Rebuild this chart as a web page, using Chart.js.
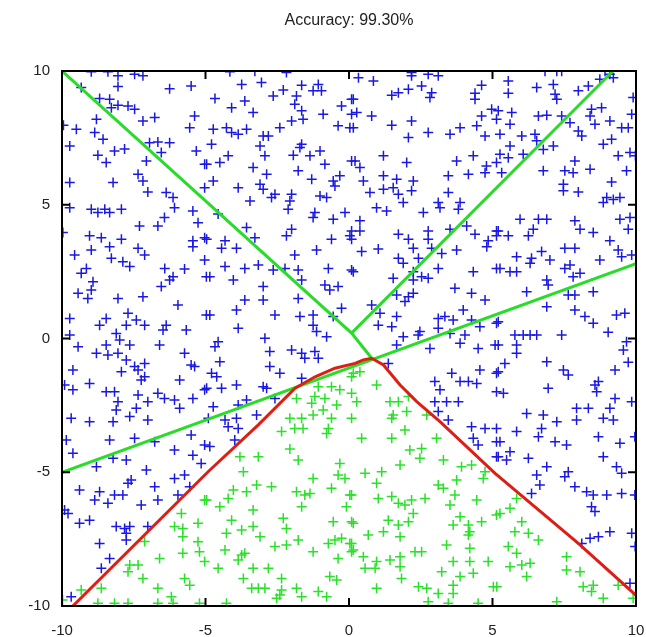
<!DOCTYPE html>
<html>
<head>
<meta charset="utf-8">
<script src="https://cdn.jsdelivr.net/npm/chart.js@4.4.1/dist/chart.umd.min.js"></script>
<style>
html,body{margin:0;padding:0;background:#fff;}
#wrap{width:646px;height:637px;}
</style>
</head>
<body>
<div id="wrap"><canvas id="c" width="646" height="637"></canvas></div>
<script>
const titleText = "Accuracy: 99.30%";
const xTicks = [-10, -5, 0, 5, 10];
const yTicks = [-10, -5, 0, 5, 10];

// class 1 (blue "+") points [x, y]
const bluePoints = [
[-8.98,9.97],[-8.40,9.97],[-8.05,9.82],[-7.47,9.88],[-7.18,9.82],[-9.33,9.38],[-8.05,9.42],[-6.25,9.34],[-5.50,9.44],
[-8.69,8.97],[-8.34,8.94],[-8.28,8.63],[-8.05,8.72],[-7.70,8.69],[-7.47,8.57],[-8.80,8.20],[-7.18,8.13],[-6.77,8.26],
[-5.38,8.32],[-5.55,7.88],[-9.95,7.97],[-9.50,7.82],[-8.86,7.70],[-8.57,7.45],[-6.66,7.35],[-6.25,7.32],[-6.95,7.32],
[-9.73,7.20],[-8.75,6.85],[-8.17,7.01],[-7.82,7.08],[-8.46,6.58],[-6.54,6.95],[-7.06,6.64],[-5.32,7.01],[-5.03,6.51],
[-7.35,6.14],[-7.18,5.89],[-9.73,5.83],[-8.22,5.83],[-7.01,5.48],[-6.37,5.46],[-6.13,5.27],[-6.08,4.89],[-5.03,5.64],
[-9.73,4.89],[-8.98,4.83],[-8.51,4.83],[-7.93,4.83],[-8.75,4.71],[-8.34,4.71],[-5.44,4.77],[-5.26,4.33],[-9.97,3.96],
[-9.04,3.84],[-8.63,3.77],[-7.93,3.71],[-7.30,4.21],[-6.66,4.21],[-6.43,4.52],[-5.44,3.65],[-5.03,3.77],
[-4.15,9.97],[-3.28,9.99],[-2.18,9.94],[-3.74,9.50],[-3.05,9.57],[-1.65,9.47],[-1.07,9.50],[-1.25,9.26],[-0.96,9.26],
[-2.64,9.07],[-2.29,9.29],[-1.83,9.07],[-4.67,8.97],[-3.63,8.88],[-4.09,8.63],[-3.34,8.45],[-1.89,8.76],[-1.65,8.51],
[-1.60,8.20],[-2.00,8.13],[-0.90,8.38],[-0.26,8.69],[0.09,8.94],[0.09,8.38],[-4.73,7.82],[-4.27,7.88],[-4.09,7.70],
[-3.86,7.64],[-3.57,7.82],[-2.99,7.57],[-2.81,7.57],[-2.41,7.88],[-0.38,7.95],[0.03,7.88],[-4.79,7.26],[-3.10,7.20],
[-1.65,7.26],[-1.71,7.14],[-1.01,7.01],[-1.94,6.85],[-1.36,6.83],[-2.93,6.83],[-4.50,6.58],[-4.96,6.51],[-4.21,6.83],
[-0.84,6.51],[0.09,6.64],[-3.34,6.39],[-1.77,6.27],[-2.87,6.14],[-1.30,5.95],[-4.73,5.89],[-3.86,5.64],[-3.10,5.77],
[-2.99,5.58],[-0.32,6.08],[-0.55,5.89],[-0.49,5.70],[-2.70,5.27],[-2.58,5.39],[-2.00,5.39],[-2.06,5.14],[-2.12,4.83],
[-3.45,5.14],[-1.01,5.33],[-0.78,5.27],[-1.19,4.71],[-1.25,4.52],[-0.55,4.46],[-0.14,4.71],[0.09,4.02],[0.03,3.84],
[-4.56,4.65],[-3.57,4.15],[-3.28,3.77],[-2.00,4.08],[-2.18,3.84],[-4.32,3.65],[-4.96,3.71],[-0.61,3.71],
[0.33,9.75],[0.85,9.63],[2.18,9.94],[2.18,9.82],[2.76,9.88],[3.11,9.82],[2.07,9.32],[2.53,9.44],[2.88,9.19],[2.82,9.01],
[1.49,9.09],[1.72,9.19],[4.62,9.47],[4.39,9.17],[4.39,8.94],[0.15,8.94],[0.27,8.45],[0.79,8.32],[2.18,8.13],[1.49,7.97],
[0.15,7.88],[2.76,7.70],[2.07,7.51],[3.52,7.64],[3.87,7.88],[4.45,7.95],[4.74,7.57],[4.62,8.32],[4.97,8.57],[5.14,8.20],
[1.20,6.83],[2.01,6.58],[0.21,6.64],[0.38,6.39],[0.50,5.89],[3.75,6.64],[4.33,6.83],[4.16,6.14],[4.79,6.45],[4.74,6.20],
[5.14,6.58],[3.46,6.08],[1.20,6.08],[1.66,5.95],[2.24,5.89],[1.20,5.58],[1.54,5.64],[1.72,5.39],[2.18,5.52],[0.73,5.46],
[1.89,5.08],[0.96,4.89],[1.31,4.77],[3.46,5.46],[2.59,4.71],[3.11,5.08],[3.17,4.89],[3.87,5.08],[3.81,4.83],[0.38,4.40],
[0.38,4.02],[0.09,3.71],[1.72,3.90],[2.07,3.71],[2.76,4.02],[2.76,3.71],[4.10,4.21],[4.39,3.90],[4.85,3.65],[5.14,4.02],
[5.14,3.84],[3.52,4.08],
[6.83,9.99],[7.24,9.99],[7.41,9.99],[8.92,9.99],[9.09,9.88],[5.55,9.63],[5.55,9.17],[6.54,9.38],[7.12,9.50],[7.18,9.13],
[7.24,8.94],[7.99,9.26],[8.34,9.44],[8.74,9.69],[9.21,9.75],[9.90,9.01],[5.20,8.51],[5.67,8.45],[5.61,8.01],[5.26,7.64],
[6.60,8.32],[6.89,8.35],[7.41,8.32],[7.70,8.07],[8.45,8.57],[8.80,8.63],[8.40,8.32],[8.57,8.01],[9.09,8.13],[9.50,7.88],
[9.73,7.88],[9.85,8.38],[6.02,7.57],[6.48,7.64],[6.54,7.39],[5.61,7.20],[5.26,6.89],[5.55,6.76],[6.07,6.89],[6.77,7.07],
[7.12,7.20],[7.99,7.76],[8.11,7.57],[8.86,7.26],[9.15,7.45],[7.87,6.64],[7.52,6.27],[7.81,6.20],[8.40,6.33],[6.77,6.27],
[5.32,6.20],[9.38,6.83],[9.79,6.95],[9.98,6.83],[9.67,6.27],[7.47,5.77],[7.47,5.52],[7.99,5.48],[9.15,5.85],[8.98,5.27],
[9.21,5.20],[9.44,5.27],[8.86,5.08],[5.96,4.46],[6.60,4.46],[6.89,4.46],[6.42,4.08],[6.25,3.84],[5.20,4.02],[5.55,3.84],
[7.87,4.40],[8.05,4.08],[8.51,3.96],[9.44,4.46],[9.79,4.52],[9.73,4.08],[9.09,3.65],
[-9.56,3.12],[-8.98,3.31],[-8.34,3.43],[-7.35,3.37],[-7.12,3.12],[-5.44,3.43],[-8.28,3.00],[-7.88,2.87],[-7.64,2.69],
[-9.15,2.62],[-9.33,2.44],[-8.92,2.12],[-9.44,1.69],[-9.10,1.50],[-8.98,1.81],[-8.05,1.50],[-7.18,1.56],[-6.42,2.62],
[-5.73,2.60],[-6.54,1.94],[-6.25,2.19],[-6.13,2.31],[-5.96,1.25],[-5.03,2.93],[-4.97,2.31],[-9.73,0.75],[-9.73,0.13],
[-8.69,0.50],[-8.46,0.75],[-7.70,0.94],[-7.76,0.50],[-7.41,0.69],[-7.12,0.50],[-6.37,0.50],[-6.48,0.32],[-5.67,0.32],
[-4.97,0.88],[-9.44,-0.31],[-8.80,-0.55],[-8.46,-0.24],[-8.40,-0.62],[-8.05,-0.55],[-8.11,0.19],[-7.99,-0.06],[-7.64,-0.24],
[-6.60,-0.24],[-5.73,-0.55],[-9.62,-1.18],[-9.91,-1.74],[-9.62,-1.92],[-9.04,-1.68],[-7.93,-1.24],[-7.76,-0.80],[-7.47,-1.05],
[-7.35,-1.18],[-7.12,-0.93],[-7.24,-1.55],[-7.12,-1.43],[-5.90,-1.55],[-5.50,-0.99],[-5.38,-1.05],[-5.03,-1.92],[-8.46,-1.99],
[-8.17,-1.99],[-8.05,-2.36],[-8.11,-2.67],[-7.35,-2.11],[-7.01,-2.36],[-6.66,-2.05],[-6.43,-2.24],[-6.08,-2.30],[-5.90,-2.61],
[-5.44,-2.24],[-7.41,-2.61],[-7.64,-2.92],[-9.68,-2.98],[-9.04,-3.11],[-8.22,-3.11],[-7.01,-3.05],
[-4.44,3.37],[-3.92,3.37],[-1.13,3.31],[-1.89,3.12],[-4.32,2.69],[-3.63,2.62],[-3.16,2.75],[-2.64,2.56],[-2.23,2.62],
[-1.77,2.56],[-1.65,2.19],[-0.72,2.62],[0.09,2.56],[-4.85,2.31],[-4.03,2.19],[-2.99,1.94],[-0.84,2.00],[-0.38,1.94],
[-0.67,1.81],[-3.63,1.44],[-2.99,1.44],[-1.77,1.50],[-0.26,1.13],[-4.85,0.88],[-3.92,1.07],[-2.58,0.88],[-1.71,0.82],
[-1.25,0.88],[-0.55,0.82],[-3.86,0.38],[-1.25,0.50],[-1.13,0.26],[-0.78,0.07],[-4.56,-0.12],[-4.67,-0.31],[-2.93,0.01],
[-2.76,-0.49],[-2.00,-0.43],[-1.65,-0.55],[-1.54,-0.74],[-1.19,-0.49],[-1.07,-0.74],[-4.50,-0.87],[-2.76,-1.05],[-2.41,-1.30],
[-4.79,-1.30],[-4.61,-1.43],[-4.96,-1.86],[-4.44,-1.86],[-3.92,-1.74],[-2.99,-1.80],[-2.87,-1.86],[-1.65,-1.49],[-4.73,-2.55],
[-3.86,-2.49],[-3.57,-2.30],[-2.58,-2.24],[-3.22,-2.86],[-3.92,-2.98],[-4.32,-3.05],[-4.90,-2.98],
[0.44,3.25],[1.02,3.35],[2.24,3.37],[2.88,3.37],[3.23,3.18],[3.75,3.31],[4.80,3.43],[0.15,2.50],[1.72,3.00],[1.89,2.81],
[2.42,3.00],[1.54,2.25],[2.24,2.50],[2.24,2.19],[2.53,2.31],[2.76,2.25],[3.11,2.62],[4.33,2.50],[5.14,2.62],[1.66,1.63],
[2.07,1.56],[2.24,1.69],[1.95,1.38],[3.69,1.88],[4.27,1.69],[4.74,1.44],[0.79,1.25],[1.08,0.94],[1.66,0.82],[1.49,0.44],
[1.02,0.50],[3.11,0.75],[3.34,0.82],[3.63,0.69],[3.98,1.07],[4.27,0.69],[4.56,0.44],[5.14,0.57],[2.47,0.26],[2.41,0.13],
[1.89,0.07],[1.66,-0.24],[2.82,-0.37],[3.11,0.38],[3.52,0.19],[4.04,0.13],[3.87,-0.18],[4.50,-0.37],[5.09,-0.24],[1.37,-0.93],
[3.58,-1.30],[2.99,-1.61],[3.17,-1.92],[3.87,-1.61],[4.16,-1.61],[4.45,-1.68],[4.56,-1.18],[5.14,-1.30],[5.14,-1.99],
[2.99,-2.36],[3.40,-2.36],[3.81,-2.36],[3.11,-2.73],[3.46,-3.05],
[5.84,3.06],[6.36,3.00],[6.71,3.25],[7.00,2.93],[6.31,2.81],[7.52,3.37],[7.87,3.37],[8.74,2.93],[9.38,3.31],[9.50,3.06],
[9.85,3.12],[5.26,2.62],[5.61,2.50],[5.84,2.50],[7.52,2.62],[7.70,2.75],[7.81,2.31],[8.05,2.44],[6.89,2.19],[6.94,2.00],
[6.19,1.75],[7.64,1.63],[7.87,1.63],[8.51,1.75],[6.89,1.19],[7.87,1.07],[8.22,0.82],[8.51,0.57],[9.32,0.88],[9.61,0.94],
[5.20,0.63],[5.78,0.13],[6.07,0.13],[6.31,0.13],[6.54,0.13],[7.41,0.13],[9.03,0.23],[9.67,-0.12],[9.56,-0.43],[5.84,-0.24],
[5.84,-0.55],[5.20,-0.24],[5.43,-0.93],[5.20,-1.24],[6.89,-0.87],[7.47,-1.18],[7.64,-1.36],[9.27,-1.18],[9.73,-0.89],
[5.38,-2.05],[6.94,-1.86],[8.57,-1.74],[8.69,-1.61],[8.63,-1.99],[9.27,-2.24],[9.85,-2.36],[6.19,-2.80],[6.77,-2.86],
[7.24,-3.11],[7.93,-2.61],[8.34,-2.61],[9.09,-2.61],[8.86,-2.98],[9.21,-3.05],[7.93,-3.05],
[-9.85,-3.79],[-9.62,-4.29],[-8.34,-3.79],[-7.47,-3.73],[-6.77,-3.86],[-5.50,-3.61],[-5.03,-3.98],[-8.22,-4.48],[-7.76,-4.54],
[-8.80,-4.79],[-7.06,-4.92],[-6.08,-4.17],[-5.44,-4.36],[-5.15,-4.67],[-7.59,-5.29],[-7.70,-5.41],[-6.77,-5.54],[-6.08,-5.23],
[-5.73,-5.10],[-5.55,-5.54],[-9.39,-5.66],[-8.69,-5.73],[-8.86,-6.04],[-8.40,-6.16],[-8.17,-5.85],[-7.88,-5.85],[-6.66,-6.04],
[-7.24,-6.22],[-5.96,-5.85],[-9.91,-6.41],[-9.79,-6.54],[-9.04,-6.79],[-9.39,-6.91],[-8.11,-7.03],[-7.82,-7.10],[-7.64,-7.03],
[-7.76,-7.28],[-7.76,-7.53],[-7.01,-7.03],[-8.69,-7.66],[-8.34,-8.22],[-8.63,-8.59],[-9.68,-9.65],
[-4.21,-3.30],[-3.86,-3.36],[-4.85,-4.04],[-3.98,-3.79],
[4.27,-3.30],[4.74,-3.36],[5.14,-3.36],[4.33,-3.73],[4.50,-3.98],[5.14,-3.86],[5.14,-4.42],
[5.84,-3.48],[5.26,-3.86],[5.61,-4.23],[5.49,-4.54],[5.20,-4.42],[6.25,-4.48],[6.60,-3.67],[6.71,-3.36],[7.18,-3.86],
[7.58,-3.98],[6.54,-5.10],[6.65,-5.48],[6.89,-4.79],[7.52,-5.17],[7.64,-4.98],[7.87,-5.54],[8.69,-3.67],[8.86,-4.42],
[9.32,-4.79],[9.50,-5.04],[9.44,-3.92],[9.96,-3.67],[6.36,-5.79],[8.28,-5.73],[8.51,-5.85],[8.98,-5.85],[8.45,-6.29],
[8.57,-6.47],[9.50,-5.79],[9.96,-5.85],[9.09,-7.22],[8.40,-7.47],[8.69,-7.41],[8.11,-7.66],[9.85,-7.28],[9.97,-7.78],[9.79,-9.15]
];

// class 2 (green "+") points [x, y]
const greenPoints = [
[-1.07,-1.80],[-0.61,-1.80],[-0.32,-1.92],[0.09,-1.43],[-1.83,-2.24],[-1.19,-2.17],[-0.84,-2.24],[-0.43,-2.49],[0.09,-2.05],
[-2.06,-2.98],[-1.65,-2.98],[-1.25,-2.86],[-0.90,-2.67],[-0.61,-2.98],[-1.30,-2.42],
[0.15,-1.30],[0.38,-1.24],[0.96,-1.74],[0.27,-2.36],[1.43,-2.36],[1.72,-2.36],[2.07,-2.17],[1.54,-2.86],[2.01,-2.73],
[2.71,-2.86],[1.49,-2.98],[0.09,-2.98],
[-5.84,-6.54],[-6.08,-7.03],[-5.79,-7.10],[-5.79,-7.41],[-5.26,-6.91],[-5.03,-6.04],[-5.26,-7.60],[-5.21,-7.97],[-5.03,-8.34],
[-7.12,-7.59],[-6.60,-8.22],[-7.64,-8.47],[-7.35,-8.47],[-7.70,-8.72],[-7.18,-8.97],[-5.79,-8.03],[-5.73,-8.97],[-6.66,-9.34],
[-6.19,-9.65],[-5.55,-9.22],[-8.63,-9.34],[-9.33,-9.40],[-9.98,-9.78],[-8.75,-9.90],[-8.17,-9.90],[-7.70,-9.90],[-6.66,-9.90],
[-6.13,-9.90],[-5.21,-9.90],
[-2.35,-3.48],[-1.89,-3.36],[-1.60,-3.36],[-0.72,-3.36],[-0.78,-3.55],[-2.06,-4.13],[-1.77,-4.54],[-3.80,-4.42],[-3.16,-4.42],
[-3.68,-4.98],[-0.32,-4.67],[-0.38,-5.10],[-0.14,-5.23],[-1.25,-5.23],[-0.61,-5.60],[-4.96,-6.04],[-4.03,-5.66],[-3.57,-5.73],
[-3.22,-5.48],[-2.70,-5.54],[-1.83,-5.73],[-1.54,-5.85],[-1.36,-5.79],[0.03,-5.85],[-4.21,-5.98],[-4.50,-6.29],[-3.34,-6.41],
[-1.65,-6.29],[-0.09,-6.29],[-4.09,-6.79],[-4.27,-7.28],[-3.74,-7.16],[-3.34,-7.03],[-3.10,-7.41],[-2.29,-6.72],[-2.18,-7.10],
[-0.55,-6.85],[0.09,-6.85],[-4.32,-7.91],[-3.74,-8.09],[-3.63,-8.03],[-3.86,-8.28],[-2.58,-7.78],[-2.18,-7.72],[-1.77,-7.53],
[-1.25,-7.97],[-0.72,-7.66],[-0.49,-7.53],[-0.26,-7.47],[0.03,-7.66],[0.09,-7.97],[-0.38,-8.22],[-4.56,-8.59],[-3.34,-8.59],
[-2.81,-8.59],[-3.68,-8.97],[-2.35,-8.97],[-0.67,-8.90],[-0.43,-9.03],[-3.39,-9.34],[-3.16,-9.34],[-2.93,-9.34],[-2.35,-9.40],
[-2.41,-9.59],[-2.52,-9.71],[-1.83,-9.34],[-1.65,-9.65],[-1.07,-9.46],[-0.78,-9.65],[-4.27,-9.90],
[1.95,-3.42],[0.44,-3.73],[1.49,-3.73],[3.05,-3.73],[2.12,-4.17],[2.53,-4.11],[2.47,-4.48],[3.29,-4.54],[1.78,-4.73],
[3.92,-4.79],[4.27,-4.73],[0.56,-5.04],[1.14,-4.98],[0.96,-5.41],[3.11,-5.48],[3.29,-5.60],[3.75,-5.29],[4.74,-4.98],
[4.68,-5.23],[0.09,-5.85],[1.02,-5.98],[1.49,-5.91],[1.72,-6.16],[1.95,-6.22],[2.18,-6.04],[2.65,-5.98],[2.24,-6.54],
[3.52,-6.22],[3.69,-5.85],[4.45,-6.04],[0.15,-6.91],[0.67,-7.35],[1.20,-7.22],[1.37,-6.79],[1.72,-6.97],[2.07,-6.85],
[1.78,-7.41],[3.87,-6.66],[3.63,-6.97],[4.16,-6.97],[4.21,-7.22],[4.16,-7.35],[4.62,-6.85],[5.14,-6.60],[0.09,-7.66],
[0.15,-7.91],[0.50,-8.16],[0.56,-8.59],[0.96,-8.34],[0.91,-8.59],[1.43,-8.28],[1.78,-8.16],[1.78,-8.53],[2.30,-7.97],
[2.53,-7.97],[3.40,-7.72],[4.21,-7.84],[3.63,-8.34],[4.21,-8.34],[4.33,-8.78],[4.85,-8.34],[3.23,-8.72],[3.87,-8.90],
[1.83,-8.97],[0.96,-9.34],[2.42,-9.28],[2.71,-9.34],[3.11,-9.53],[3.63,-9.22],[3.63,-9.53],[2.76,-9.84],[3.46,-9.90],
[4.50,-9.90],[5.03,-9.28],
[5.26,-6.54],[5.61,-6.35],[5.84,-5.98],[6.02,-6.85],[5.78,-7.22],[6.25,-7.28],[6.60,-7.53],[5.55,-7.78],[5.84,-8.03],
[6.31,-8.40],[5.61,-8.53],[6.02,-8.47],[6.19,-8.90],[5.15,-9.28],[7.58,-8.16],[7.58,-8.65],[8.05,-8.72],[8.16,-9.28],
[8.51,-9.22],[8.45,-9.46],[8.86,-9.71],[7.24,-9.84],[9.38,-9.22],[9.90,-9.71]
];

// separating lines (green) and the resulting decision boundary (red)
const lineA = [[-10, 10], [0.09, 0.2], [0.79, -0.74]];
const lineB = [[9.2, 10], [0.09, 0.2]];
const lineC = [[-10, -5], [10, 2.8]];
const boundary = [[-9.62,-10],[-4.91,-4.98],[-3.16,-3.23],[-1.88,-1.86],[-1.18,-1.43],[-0.49,-1.11],[0.21,-0.93],
  [0.5,-0.8],[0.79,-0.74],[1.2,-0.99],[1.78,-1.74],[2.36,-2.36],[3.17,-3.11],[5.09,-5.04],[7.99,-7.66],[10,-9.6]];

const toXY = arr => arr.map(p => ({x: p[0], y: p[1]}));
const FONT = 'Liberation Sans, Arial, sans-serif';

const framePlugin = {
  id: 'frame',
  afterDatasetsDraw(chart) {
    const {ctx, chartArea: a, scales: {x, y}} = chart;
    ctx.save();
    ctx.strokeStyle = '#000';
    ctx.lineWidth = 2;
    ctx.strokeRect(a.left, a.top, a.right - a.left, a.bottom - a.top);
    const L = 8;
    ctx.beginPath();
    xTicks.forEach(v => {
      const px = x.getPixelForValue(v);
      ctx.moveTo(px, a.bottom); ctx.lineTo(px, a.bottom - L);
      ctx.moveTo(px, a.top); ctx.lineTo(px, a.top + L);
    });
    yTicks.forEach(v => {
      const py = y.getPixelForValue(v);
      ctx.moveTo(a.left, py); ctx.lineTo(a.left + L, py);
      ctx.moveTo(a.right, py); ctx.lineTo(a.right - L, py);
    });
    ctx.stroke();
    ctx.restore();
  }
};

const lineStyle = (data, color, order) => ({
  data: toXY(data), showLine: true, borderColor: color, borderWidth: 3,
  pointRadius: 0, fill: false, tension: 0, order: order
});

new Chart(document.getElementById('c'), {
  type: 'scatter',
  data: {
    datasets: [
      lineStyle(boundary, 'rgb(222,30,20)', 0),
      lineStyle(lineA, 'rgb(40,220,40)', 1),
      lineStyle(lineB, 'rgb(40,220,40)', 1),
      lineStyle(lineC, 'rgb(40,220,40)', 1),
      { data: toXY(greenPoints), pointStyle: 'cross', pointRadius: 5, pointBorderWidth: 1.5,
        borderColor: 'rgb(40,225,40)', backgroundColor: 'rgb(40,225,40)', order: 2 },
      { data: toXY(bluePoints), pointStyle: 'cross', pointRadius: 5, pointBorderWidth: 1.5,
        borderColor: 'rgb(25,25,225)', backgroundColor: 'rgb(25,25,225)', order: 3 }
    ]
  },
  options: {
    responsive: false,
    animation: false,
    layout: {padding: {left: 0, right: 10, top: 0, bottom: 0}},
    plugins: {
      legend: {display: false},
      tooltip: {enabled: false},
      title: {
        display: true, text: titleText, color: '#222', fullSize: false,
        font: {family: FONT, size: 16, weight: 'normal'},
        padding: {top: 11, bottom: 40.8}
      }
    },
    scales: {
      x: {
        type: 'linear', min: -10, max: 10,
        afterBuildTicks: s => { s.ticks = xTicks.map(v => ({value: v})); },
        afterFit: s => { s.height = 31; s.paddingLeft = 0; s.paddingRight = 0; },
        grid: {display: false}, border: {display: false},
        ticks: {color: '#222', padding: 8, font: {family: FONT, size: 15}}
      },
      y: {
        type: 'linear', min: -10, max: 10,
        afterBuildTicks: s => { s.ticks = yTicks.map(v => ({value: v})); },
        afterFit: s => { s.width = 62; s.paddingTop = 0; s.paddingBottom = 0; },
        grid: {display: false}, border: {display: false},
        ticks: {color: '#222', padding: 4, font: {family: FONT, size: 15}}
      }
    }
  },
  plugins: [framePlugin]
});
</script>
</body>
</html>
